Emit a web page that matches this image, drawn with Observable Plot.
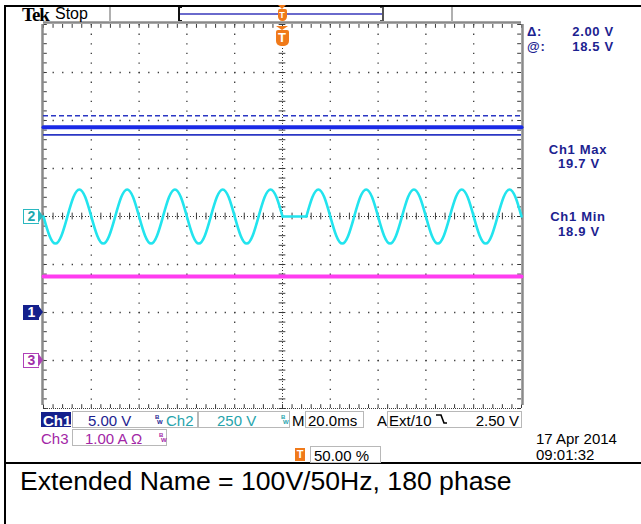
<!DOCTYPE html>
<html><head><meta charset="utf-8">
<script src="https://cdn.jsdelivr.net/npm/d3@7"></script>
<script src="https://cdn.jsdelivr.net/npm/@observablehq/plot@0.6"></script>
<style>
body{margin:0;background:#fff;}
#wrap{position:relative;width:641px;height:524px;overflow:hidden;font-family:"Liberation Sans",Arial,sans-serif;background:#fff;}
#wrap svg{position:absolute;left:0;top:0;}
.t{position:absolute;white-space:nowrap;line-height:1;}
.box{position:absolute;border:1px solid #b8b8b8;box-sizing:border-box;}
.ln{position:absolute;}
</style></head><body><div id="wrap"></div>
<script>
// ---------- data ----------
const timeDomainMs = [0, 200];          // 10 div x 20.0 ms
const divDomain = [-4, 4];               // 8 vertical divisions
const channelNames = ["Ch1", "Ch2", "Ch3"];
const channelPerDiv = [5, 250, 1];       // V/div, V/div, A/div
const channelOffsetDiv = [-2, 0, -3];    // ground marker positions (div)
const channelColors = ["#1a2ae6", "#22e4ee", "#ff3cf0"];

const ch1Times = [0, 200];
const ch1Volts = [19.3, 19.3];
const ch3Times = [0, 200];
const ch3Amps = [1.75, 1.75];

// Ch2: 100 V / 50 Hz, sampled every 2.5 ms; dropout 100–110 ms
const ch2SegStartMs = [0, 100, 110];
const ch2SegStepMs = [2.5, 10, 2.5];
const ch2SegA = [0,-100,-141,-100,0,100,141,100, 0,-100,-141,-100,0,100,141,100,
                 0,-100,-141,-100,0,100,141,100, 0,-100,-141,-100,0,100,141,100,
                 0,-100,-141,-100,0,100,141,100, 0];
const ch2SegB = [0, 0];
const ch2SegC = [0,100,141,100,0,-100,-141,-100, 0,100,141,100,0,-100,-141,-100,
                 0,100,141,100,0,-100,-141,-100, 0,100,141,100,0,-100,-141,-100,
                 0,100,141,100, 0];

const cursorVolts = [18.5, 20.5];       // solid, dashed
const cursorReadout = ["Δ:", "2.00 V", "@:", "18.5 V"];
const measureLabels = ["Ch1 Max", "19.7 V", "Ch1 Min", "18.9 V"];
const statusRow1 = ["Ch1", "5.00 V", "Ch2", "250 V", "M", "20.0ms", "A", "Ext/10", "2.50 V"];
const statusRow2 = ["Ch3", "1.00 A Ω"];
const triggerPos = "50.00 %";
const dateText = ["17 Apr 2014", "09:01:32"];
const headerText = ["Tek", "Stop"];
const caption = "Extended Name = 100V/50Hz, 180 phase";

// ---------- build ----------
const toDiv = (v, ch) => v / channelPerDiv[ch] + channelOffsetDiv[ch];
const ch1Data = ch1Times.map((t, i) => ({t, d: toDiv(ch1Volts[i], 0)}));
const ch3Data = ch3Times.map((t, i) => ({t, d: toDiv(ch3Amps[i], 2)}));
const ch2Data = [ch2SegA, ch2SegB, ch2SegC].flatMap((seg, s) =>
  seg.map((v, i) => ({t: ch2SegStartMs[s] + i * ch2SegStepMs[s], d: toDiv(v, 1), seg: s})));
const cursorData = cursorVolts.map((v, i) => ({d: toDiv(v, 0), dashed: i === 1}));

const majorX = d3.range(20, 200, 20).filter(x => x !== 100);
const majorY = d3.range(-3, 4, 1).filter(y => y !== 0);
const minorX = d3.range(0, 200.01, 4);
const minorY = d3.range(-4, 4.01, 0.2);
const grid = "#3a3a3a";

const chart = Plot.plot({
  width: 641, height: 524,
  marginLeft: 43, marginRight: 120, marginTop: 24, marginBottom: 116,
  x: {domain: timeDomainMs, axis: null},
  y: {domain: divDomain, axis: null},
  style: {background: "transparent", overflow: "visible"},
  marks: [
    Plot.ruleX(majorX, {stroke: grid, strokeWidth: 1.3, strokeDasharray: "1.3,8.3"}),
    Plot.ruleY(majorY, {stroke: grid, strokeWidth: 1.3, strokeDasharray: "1.3,8.26"}),
    Plot.ruleX([100], {stroke: grid, strokeDasharray: "1,2"}),
    Plot.ruleY([0], {stroke: grid, strokeDasharray: "1,2"}),
    Plot.ruleX(minorX, {y1: -0.07, y2: 0.07, stroke: grid}),
    Plot.ruleY(minorY, {x1: 98.6, x2: 101.4, stroke: grid}),
    Plot.ruleX(minorX, {y1: 4, y2: 3.92, stroke: grid}),
    Plot.ruleX(minorX, {y1: -4, y2: -3.92, stroke: grid}),
    Plot.ruleY(minorY, {x1: 0, x2: 1.6, stroke: grid}),
    Plot.ruleY(minorY, {x1: 200, x2: 198.4, stroke: grid}),
    Plot.ruleY([-4], {stroke: grid, strokeDasharray: "1,1"}),
    Plot.ruleY([4], {stroke: "#8a8a8a", strokeWidth: 2.5, dy: -2}),
    Plot.ruleX([0], {stroke: "#8a8a8a", strokeWidth: 2.5, dx: -1, y1: -4, y2: 4, insetTop: -3}),
    Plot.ruleX([200], {stroke: "#8a8a8a", strokeWidth: 2.5, dx: 1, y1: -4, y2: 4, insetTop: -3}),
    Plot.line(ch3Data, {x: "t", y: "d", stroke: channelColors[2], strokeWidth: 4}),
    Plot.line(ch2Data, {x: "t", y: "d", z: "seg", curve: "natural", stroke: channelColors[1], strokeWidth: 2.6}),
    Plot.line(ch1Data, {x: "t", y: "d", stroke: channelColors[0], strokeWidth: 4}),
    Plot.ruleY(cursorData.filter(c => !c.dashed), {y: "d", stroke: "#2b37c4", strokeWidth: 1.6}),
    Plot.ruleY(cursorData.filter(c => c.dashed), {y: "d", stroke: "#2b37c4", strokeWidth: 1.6, strokeDasharray: "5,3"})
  ]
});

const wrap = document.getElementById("wrap");
wrap.appendChild(chart);
const ys = chart.scale("y"), xs = chart.scale("x");

function box(css, cls = "ln") { const d = document.createElement("div"); d.className = cls; Object.assign(d.style, css); wrap.appendChild(d); return d; }
function txt(s, x, y, css = {}, align = "left") {
  const d = document.createElement("div"); d.className = "t"; d.textContent = s;
  const tx = align === "left" ? "0" : align === "right" ? "-100%" : "-50%";
  Object.assign(d.style, {left: x + "px", top: y + "px", transform: `translate(${tx},-50%)`}, css);
  wrap.appendChild(d); return d;
}

// outer lines
box({left: "4px", top: "5px", width: "637px", height: "2px", background: "#000"});
box({left: "4px", top: "5px", width: "2px", height: "519px", background: "#000"});
box({left: "4px", top: "462px", width: "637px", height: "2px", background: "#000"});

// header
txt(headerText[0], 22, 14, {fontWeight: "bold", fontSize: "19px", letterSpacing: "-1px", fontFamily: "'Liberation Serif',serif"});
txt(headerText[1], 55, 14, {fontSize: "16px"});
box({left: "109px", top: "7px", width: "2px", height: "15px", background: "#b0b0b0"});
box({left: "451px", top: "7px", width: "2px", height: "15px", background: "#b0b0b0"});
box({left: "179px", top: "13px", width: "204px", height: "2px", background: "#6a6acc"});
box({left: "178px", top: "7px", width: "2px", height: "14px", background: "#111"});
box({left: "178px", top: "7px", width: "4px", height: "1px", background: "#111"});
box({left: "178px", top: "20px", width: "4px", height: "1px", background: "#111"});
box({left: "382px", top: "7px", width: "2px", height: "14px", background: "#555"});
box({left: "380px", top: "7px", width: "4px", height: "1px", background: "#555"});
box({left: "380px", top: "20px", width: "4px", height: "1px", background: "#555"});

const orange = "#f07a1a";
function tMarker(cx, top, w, h) {
  box({left: (cx - w / 2) + "px", top: (top - 4) + "px", width: "0", height: "0",
    borderLeft: (w / 2) + "px solid transparent", borderRight: (w / 2) + "px solid transparent", borderTop: "4px solid " + orange});
  const b = box({left: (cx - w / 2) + "px", top: top + "px", width: w + "px", height: h + "px", background: orange,
    borderRadius: "2px 2px 5px 5px", color: "#fff", fontWeight: "bold", fontSize: (h - 3) + "px", textAlign: "center", lineHeight: h + "px"});
  b.textContent = "T";
}
const trigX = xs.apply(100);
tMarker(trigX, 9, 9, 12);
tMarker(trigX, 30, 13, 16);

// channel ground markers
function chMarker(ch, label, fill, border, color) {
  const y = ys.apply(channelOffsetDiv[ch]);
  const b = box({left: "23px", top: (y - 7) + "px", width: "16px", height: "15px", background: fill,
    border: "1.5px solid " + border, boxSizing: "border-box", color, fontWeight: "bold", fontSize: "14px",
    textAlign: "center", lineHeight: "12px", borderRight: "none"});
  b.textContent = label;
  box({left: "38px", top: (y - 7) + "px", width: "0", height: "0", borderTop: "7.5px solid transparent",
    borderBottom: "7.5px solid transparent", borderLeft: "5px solid " + border});
}
chMarker(1, "2", "#fff", "#2ab8c0", "#1fa8b0");
chMarker(0, "1", "#14208c", "#14208c", "#fff");
chMarker(2, "3", "#fff", "#b040b8", "#a030a8");

// right readouts
const navy = "#1c2290";
const rf = {color: navy, fontSize: "13px", fontWeight: "bold", letterSpacing: "0.7px"};
txt(cursorReadout[0], 527, 31, rf); txt(cursorReadout[1], 614, 31, rf, "right");
txt(cursorReadout[2], 527, 46, rf); txt(cursorReadout[3], 614, 46, rf, "right");
txt(measureLabels[0], 578, 149, rf, "center"); txt(measureLabels[1], 579, 163, rf, "center");
txt(measureLabels[2], 578, 216, rf, "center"); txt(measureLabels[3], 579, 231, rf, "center");

// status bar
const sf = {fontSize: "15px"};
box({left: "41px", top: "412px", width: "30px", height: "15px", background: "#14208c"});
txt(statusRow1[0], 43, 420, {...sf, color: "#fff", fontWeight: "bold"});
box({left: "72px", top: "411px", width: "126px", height: "17px"}, "box");
txt(statusRow1[1], 88, 420, {...sf, color: navy});
function bw(x, y, color) {
  txt("B", x, y - 3, {fontSize: "6px", color, fontWeight: "bold"});
  txt("W", x + 2, y + 2, {fontSize: "6px", color, fontWeight: "bold"});
}
bw(155, 420, navy);
txt(statusRow1[2], 166, 420, {...sf, color: "#26a4ac"});
box({left: "198px", top: "411px", width: "92px", height: "17px"}, "box");
txt(statusRow1[3], 217, 420, {...sf, color: "#26a4ac"});
bw(281, 420, "#26a4ac");
txt(statusRow1[4], 292, 420, sf);
box({left: "305px", top: "411px", width: "59px", height: "17px"}, "box");
txt(statusRow1[5], 308, 420, sf);
txt(statusRow1[6], 377, 420, sf);
box({left: "387px", top: "411px", width: "135px", height: "17px"}, "box");
txt(statusRow1[7], 389, 420, sf);
const slope = document.createElementNS("http://www.w3.org/2000/svg", "svg");
slope.setAttribute("width", "12"); slope.setAttribute("height", "12");
Object.assign(slope.style, {position: "absolute", left: "436px", top: "413px"});
slope.innerHTML = '<path d="M0,2 H5 L8,10 H11" fill="none" stroke="#000" stroke-width="1.6"/>';
wrap.appendChild(slope);
txt(statusRow1[8], 519, 420, sf, "right");

txt(statusRow2[0], 41, 438, {...sf, color: "#a226a6"});
box({left: "72px", top: "429px", width: "95px", height: "17px"}, "box");
txt(statusRow2[1], 85, 438, {...sf, color: "#a226a6"});
bw(159, 438, "#a226a6");

const tq = box({left: "295px", top: "448px", width: "10px", height: "13px", background: orange, color: "#fff",
  fontWeight: "bold", fontSize: "11px", textAlign: "center", lineHeight: "13px"});
tq.textContent = "T";
box({left: "310px", top: "446px", width: "71px", height: "17px"}, "box");
txt(triggerPos, 314, 455, sf);

txt(dateText[0], 536, 438, sf);
txt(dateText[1], 536, 454, sf);

txt(caption, 20, 481, {fontSize: "26.6px", color: "#000"});
</script></body></html>
